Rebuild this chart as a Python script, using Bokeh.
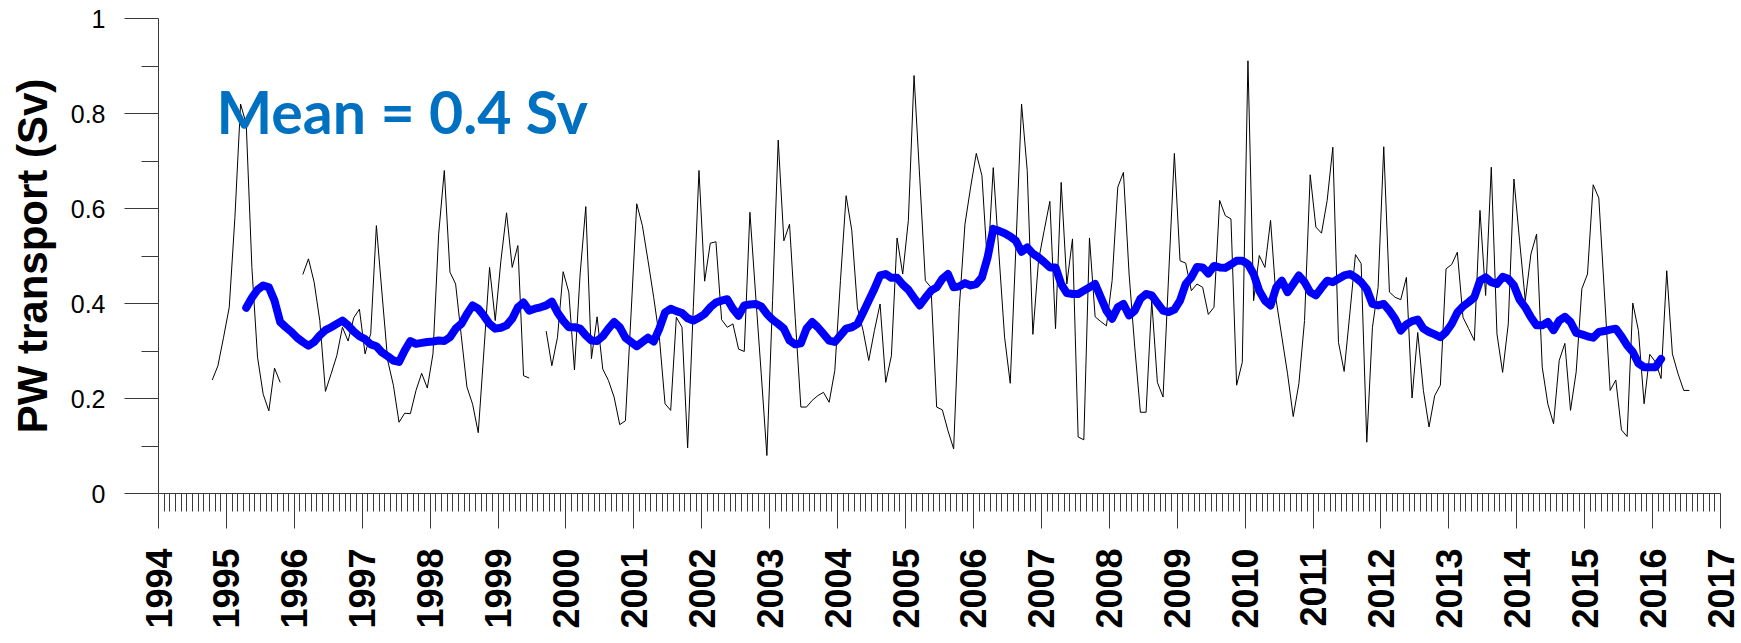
import math
from bokeh.plotting import figure
from bokeh.models import FixedTicker, Label
from bokeh.embed import file_html
from bokeh.resources import INLINE

# ---------------- data ----------------
# Monthly PW transport (Sv), first value = Oct 1994, last = Jul 2016 (None = no data)
pw_start_year, pw_start_month = 1994, 10
pw_monthly = [
    # Oct 1994 - Oct 1995
    0.239, 0.269, 0.329, 0.392, 0.581, 0.820, 0.778, 0.476, 0.287, 0.209, 0.174, 0.264, 0.234,
    # Nov 1995 - Jan 1996 (gap)
    None, None, None,
    # Feb 1996 - Feb 1997
    0.461, 0.494, 0.445, 0.364, 0.215, 0.252, 0.290, 0.350, 0.321, 0.370, 0.388, 0.294, 0.337,
    # Mar 1997 - Jun 1999
    0.564, 0.420, 0.280, 0.228, 0.150, 0.169, 0.168, 0.217, 0.253, 0.222, 0.294, 0.546, 0.680, 0.466,
    0.441, 0.332, 0.224, 0.188, 0.128, 0.300, 0.476, 0.364, 0.490, 0.591, 0.476, 0.522, 0.248, 0.243,
    # Jul - Aug 1999 (gap)
    None, None,
    # Sep 1999 - Feb 2002
    0.342, 0.269, 0.329, 0.467, 0.424, 0.260, 0.462, 0.604, 0.284, 0.372, 0.262, 0.238, 0.203, 0.145, 0.153,
    0.378, 0.610, 0.564, 0.490, 0.413, 0.329, 0.189, 0.175, 0.371, 0.350, 0.096, 0.392, 0.680, 0.447, 0.527,
    # Mar 2002 - Aug 2004
    0.530, 0.366, 0.350, 0.357, 0.304, 0.299, 0.592, 0.420, 0.252, 0.080, 0.406, 0.744, 0.532, 0.567, 0.371,
    0.182, 0.182, 0.196, 0.206, 0.213, 0.192, 0.259, 0.448, 0.627, 0.554, 0.391, 0.343, 0.280, 0.343, 0.399,
    # Sep 2004 - Feb 2007
    0.234, 0.290, 0.538, 0.462, 0.575, 0.880, 0.666, 0.448, 0.434, 0.182, 0.176, 0.132, 0.094, 0.392, 0.567,
    0.645, 0.716, 0.669, 0.476, 0.686, 0.504, 0.329, 0.232, 0.518, 0.820, 0.680, 0.335, 0.491, 0.554, 0.615,
    # Mar 2007 - Aug 2009
    0.347, 0.655, 0.441, 0.536, 0.119, 0.113, 0.538, 0.372, 0.362, 0.353, 0.448, 0.645, 0.676, 0.462, 0.308,
    0.171, 0.171, 0.406, 0.234, 0.203, 0.462, 0.716, 0.490, 0.485, 0.427, 0.441, 0.434, 0.377, 0.392, 0.617,
    # Sep 2009 - Feb 2012
    0.585, 0.578, 0.228, 0.276, 0.911, 0.406, 0.501, 0.476, 0.575, 0.406, 0.329, 0.252, 0.162, 0.231, 0.364,
    0.671, 0.561, 0.548, 0.617, 0.729, 0.318, 0.257, 0.378, 0.503, 0.484, 0.108, 0.350, 0.434, 0.730, 0.424,
    # Mar 2012 - Aug 2014
    0.413, 0.408, 0.455, 0.201, 0.339, 0.217, 0.140, 0.206, 0.228, 0.473, 0.482, 0.508, 0.371, 0.347, 0.322,
    0.596, 0.417, 0.687, 0.336, 0.255, 0.357, 0.662, 0.532, 0.406, 0.504, 0.546, 0.266, 0.188, 0.147, 0.280,
    # Sep 2014 - Jul 2016
    0.316, 0.175, 0.256, 0.431, 0.462, 0.650, 0.622, 0.420, 0.217, 0.239, 0.134, 0.120, 0.401, 0.343, 0.189,
    0.293, 0.277, 0.242, 0.469, 0.294, 0.252, 0.217, 0.217,
]

# Running mean (Sv), first value = Apr 1995, last = Feb 2016
mean_start_year, mean_start_month = 1995, 4
pw_running_mean = [
    # Apr 1995 - Feb 1997
    0.391, 0.412, 0.429, 0.438, 0.434, 0.406, 0.361, 0.350, 0.340, 0.328, 0.319, 0.311, 0.319, 0.333, 0.344,
    0.350, 0.357, 0.364, 0.354, 0.341, 0.331, 0.325, 0.314,
    # Mar 1997 - Aug 1999
    0.310, 0.297, 0.289, 0.280, 0.277, 0.301, 0.321, 0.315, 0.317, 0.319, 0.320, 0.322, 0.321, 0.329, 0.347,
    0.357, 0.378, 0.396, 0.389, 0.374, 0.357, 0.347, 0.349, 0.354, 0.368, 0.392, 0.402, 0.385, 0.389, 0.392,
    # Sep 1999 - Feb 2002
    0.396, 0.404, 0.381, 0.364, 0.350, 0.350, 0.347, 0.333, 0.322, 0.321, 0.331, 0.347, 0.361, 0.350, 0.328,
    0.319, 0.310, 0.319, 0.328, 0.320, 0.347, 0.381, 0.389, 0.384, 0.380, 0.369, 0.364, 0.370, 0.378, 0.392,
    # Mar 2002 - Aug 2004
    0.402, 0.406, 0.409, 0.389, 0.374, 0.396, 0.398, 0.399, 0.394, 0.378, 0.366, 0.357, 0.347, 0.322, 0.314,
    0.316, 0.347, 0.361, 0.350, 0.336, 0.322, 0.319, 0.333, 0.347, 0.350, 0.357, 0.381, 0.406, 0.431, 0.459,
    # Sep 2004 - Feb 2007
    0.462, 0.454, 0.454, 0.440, 0.429, 0.412, 0.396, 0.412, 0.427, 0.434, 0.452, 0.462, 0.434, 0.436, 0.443,
    0.438, 0.441, 0.455, 0.497, 0.557, 0.553, 0.548, 0.541, 0.532, 0.509, 0.518, 0.505, 0.497, 0.487, 0.476,
    # Mar 2007 - Aug 2009
    0.476, 0.441, 0.422, 0.420, 0.420, 0.427, 0.434, 0.441, 0.413, 0.385, 0.368, 0.392, 0.399, 0.375, 0.385,
    0.410, 0.420, 0.417, 0.401, 0.385, 0.382, 0.387, 0.406, 0.441, 0.455, 0.477, 0.476, 0.463, 0.479, 0.476,
    # Sep 2009 - Feb 2012
    0.475, 0.482, 0.490, 0.490, 0.483, 0.462, 0.427, 0.406, 0.396, 0.434, 0.448, 0.424, 0.441, 0.459, 0.445,
    0.424, 0.417, 0.433, 0.448, 0.445, 0.452, 0.459, 0.462, 0.455, 0.445, 0.430, 0.399, 0.396, 0.399, 0.385,
    # Mar 2012 - Aug 2014
    0.368, 0.343, 0.356, 0.363, 0.366, 0.347, 0.340, 0.335, 0.329, 0.340, 0.357, 0.381, 0.394, 0.403, 0.413,
    0.448, 0.455, 0.445, 0.441, 0.456, 0.452, 0.438, 0.408, 0.392, 0.371, 0.354, 0.354, 0.361, 0.344, 0.364,
    # Sep 2014 - Feb 2016
    0.372, 0.361, 0.338, 0.335, 0.331, 0.328, 0.340, 0.342, 0.345, 0.347, 0.331, 0.312, 0.298, 0.274, 0.266,
    0.266, 0.266, 0.283,
]

year_ticks = list(range(1994, 2018))
y_ticks = [0, 0.2, 0.4, 0.6, 0.8, 1]
y_tick_labels = ["0", "0.2", "0.4", "0.6", "0.8", "1"]
y_minor = [0.1, 0.3, 0.5, 0.7, 0.9]
mean_text = "Mean = 0.4 Sv"
y_title = "PW transport (Sv)"


def month_time(y0, m0, i):
    k = (m0 - 1) + i
    return y0 + (k + 0.5) / 12.0


pw_x = [month_time(pw_start_year, pw_start_month, i) for i in range(len(pw_monthly))]
pw_y = [float("nan") if v is None else v for v in pw_monthly]
mean_x = [month_time(mean_start_year, mean_start_month, i) for i in range(len(pw_running_mean))]

month_minor = [y + m / 12.0 for y in range(1994, 2017) for m in range(1, 12)]

# ---------------- figure ----------------
p = figure(width=1741, height=643, x_range=(1994, 2017), y_range=(0, 1),
           output_backend="svg", toolbar_location=None,
           min_border_left=158, min_border_right=21, min_border_top=18, min_border_bottom=150)
p.xgrid.visible = False
p.ygrid.visible = False
p.outline_line_color = None
p.background_fill_color = "white"
p.border_fill_color = "white"

axis_col = "#3a3a3a"

xa = p.xaxis[0]
xa.ticker = FixedTicker(ticks=year_ticks, minor_ticks=month_minor)
xa.major_label_orientation = math.pi / 2
xa.major_label_text_font = "Liberation Sans"
xa.major_label_text_font_style = "bold"
xa.major_label_text_font_size = "36px"
xa.major_label_text_color = "black"
xa.major_label_standoff = 20
xa.major_tick_out = 35
xa.major_tick_in = 0
xa.minor_tick_out = 18
xa.minor_tick_in = 0
xa.axis_line_color = axis_col
xa.major_tick_line_color = axis_col
xa.minor_tick_line_color = axis_col

ya = p.yaxis[0]
ya.ticker = FixedTicker(ticks=y_ticks, minor_ticks=y_minor)
ya.major_label_overrides = {t: s for t, s in zip(y_ticks, y_tick_labels)}
ya.major_label_text_font = "Liberation Sans"
ya.major_label_text_font_size = "25px"
ya.major_label_text_color = "black"
ya.major_label_standoff = 19
ya.major_tick_out = 34
ya.major_tick_in = 0
ya.minor_tick_out = 17
ya.minor_tick_in = 0
ya.axis_line_color = axis_col
ya.major_tick_line_color = axis_col
ya.minor_tick_line_color = axis_col
ya.axis_label = y_title
ya.axis_label_text_font = "Liberation Sans"
ya.axis_label_text_font_style = "bold"
ya.axis_label_text_font_size = "42px"
ya.axis_label_text_color = "black"
ya.axis_label_standoff = 12

p.line(pw_x, pw_y, line_color="black", line_width=1)
p.line(mean_x, pw_running_mean, line_color="#0000FF", line_width=8,
       line_join="round", line_cap="round")

lab = Label(x=58, y=382, x_units="screen", y_units="screen", text=mean_text,
            text_font="Lato", text_font_style="bold", text_font_size="59px",
            text_color="#0070C0", text_baseline="alphabetic", text_align="left")
p.add_layout(lab)

open("out.html", "w").write(file_html(p, INLINE))
